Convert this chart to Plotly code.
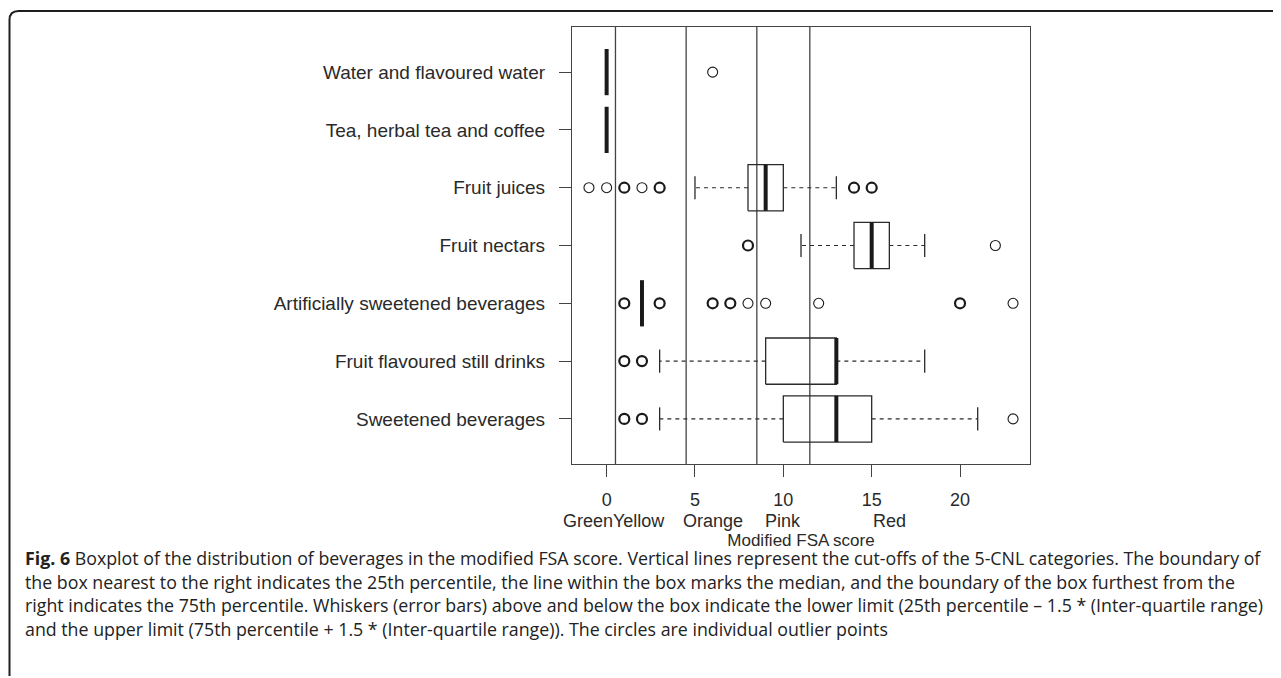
import plotly.graph_objects as go

# data (bottom row first)
categories = ["Sweetened beverages", "Fruit flavoured still drinks",
              "Artificially sweetened beverages", "Fruit nectars", "Fruit juices",
              "Tea, herbal tea and coffee", "Water and flavoured water"]
lower = [3, 3, 2, 11, 5, 0, 0]
q1 = [10, 9, 2, 14, 8, 0, 0]
median = [13, 13, 2, 15, 9, 0, 0]
q3 = [15, 13, 2, 16, 10, 0, 0]
upper = [21, 18, 2, 18, 13, 0, 0]
outliers = [[1, 2, 23], [1, 2], [1, 3, 6, 7, 8, 9, 12, 20, 23], [8, 22],
            [-1, 0, 1, 2, 3, 14, 15], [], [6]]
outlier_counts = [[2, 2, 1], [3, 3], [3, 3, 3, 3, 1, 1, 1, 3, 1], [3, 1],
                  [1, 1, 3, 1, 3, 3, 3], [], [1]]
cutoffs = [0.5, 4.5, 8.5, 11.5]
x_ticks = [0, 5, 10, 15, 20]
band_names = ["Green", "Yellow", "Orange", "Pink", "Red"]
band_label_x = [-1.05, 1.85, 6.0, 10.0, 16.0]

caption_lines = [
    "<b>Fig. 6</b> Boxplot of the distribution of beverages in the modified FSA score. Vertical lines represent the cut-offs of the 5-CNL categories. The boundary of",
    "the box nearest to the right indicates the 25th percentile, the line within the box marks the median, and the boundary of the box furthest from the",
    "right indicates the 75th percentile. Whiskers (error bars) above and below the box indicate the lower limit (25th percentile \u2013 1.5 * (Inter-quartile range)",
    "and the upper limit (75th percentile + 1.5 * (Inter-quartile range)). The circles are individual outlier points",
]

OFF = 8  # page body margin
W, H = 1281 - OFF - 2, 678 - OFF - 2
# plot area in page pixels, shifted into figure pixels
L, R, T, B = 572 - OFF, 1030 - OFF, 27 - OFF, 464 - OFF
XR = [-1.96, 23.96]
YR = [0.22, 7.78]
INK = "#2a2a2a"
BOXW = 0.4
CAPW = 0.2
AXFONT = "Liberation Sans, Arial"


def px_x(x):
    return (x - OFF - L) / (R - L)


def px_y(y):
    return (B - (y - OFF)) / (B - T)


fig = go.Figure()

for c in cutoffs:
    fig.add_trace(go.Scatter(x=[c, c], y=YR, mode="lines",
                             line=dict(color="#444", width=1.3),
                             hoverinfo="skip", showlegend=False))

for i, name in enumerate(categories):
    y = i + 1
    # whiskers
    for a, b in ((q1[i], lower[i]), (q3[i], upper[i])):
        if a != b:
            fig.add_trace(go.Scatter(x=[a, b], y=[y, y], mode="lines",
                                     line=dict(color=INK, width=1.1, dash="4px,4px"),
                                     hoverinfo="skip", showlegend=False))
            fig.add_trace(go.Scatter(x=[b, b], y=[y - CAPW, y + CAPW], mode="lines",
                                     line=dict(color=INK, width=1.3),
                                     hoverinfo="skip", showlegend=False))
    # box
    if q1[i] != q3[i]:
        fig.add_trace(go.Scatter(x=[q1[i], q3[i], q3[i], q1[i], q1[i]],
                                 y=[y - BOXW, y - BOXW, y + BOXW, y + BOXW, y - BOXW],
                                 mode="lines", line=dict(color=INK, width=1.3),
                                 hoverinfo="skip", showlegend=False))
    # median
    fig.add_trace(go.Scatter(x=[median[i], median[i]], y=[y - BOXW, y + BOXW],
                             mode="lines", line=dict(color="#1a1a1a", width=4),
                             name=name, showlegend=False))
    # outliers
    if outliers[i]:
        fig.add_trace(go.Scatter(
            x=outliers[i], y=[y] * len(outliers[i]), mode="markers",
            marker=dict(symbol="circle-open", size=10, color="#1a1a1a",
                        line=dict(width=[1.1 if n == 1 else 2.2 for n in outlier_counts[i]])),
            name=name, showlegend=False))

fig.update_xaxes(range=XR, tickvals=x_ticks, ticks="outside", ticklen=12,
                 tickcolor="#444", tickwidth=1.2, ticklabelstandoff=7,
                 tickfont=dict(family=AXFONT, size=18, color=INK),
                 showline=True, linecolor="#444", linewidth=1.3, mirror=True,
                 showgrid=False, zeroline=False,
                 title=dict(text="Modified FSA score", standoff=25,
                            font=dict(family=AXFONT, size=17, color=INK)))
fig.update_yaxes(range=YR, tickvals=list(range(1, len(categories) + 1)), ticktext=categories,
                 ticks="outside", ticklen=12, tickcolor="#444", tickwidth=1.2,
                 ticklabelstandoff=10,
                 tickfont=dict(family=AXFONT, size=19, color=INK),
                 showline=True, linecolor="#444", linewidth=1.3, mirror=True,
                 showgrid=False, zeroline=False)

for name, xb in zip(band_names, band_label_x):
    fig.add_annotation(x=xb, xref="x", y=px_y(521), yref="paper", text=name,
                       showarrow=False, xanchor="center", yanchor="middle",
                       font=dict(family=AXFONT, size=18, color=INK))

for k, line in enumerate(caption_lines):
    fig.add_annotation(x=px_x(23), xref="paper", y=px_y(558 + 23.5 * k), yref="paper",
                       text=line, showarrow=False, xanchor="left", yanchor="middle",
                       font=dict(family="Open Sans", size=17.8, color="#222"))

# rounded frame around the figure
fx0, fy0, rad = 9.5, 11, 9
path = (f"M {px_x(fx0)},{px_y(690)} L {px_x(fx0)},{px_y(fy0 + rad)} "
        f"Q {px_x(fx0)},{px_y(fy0)} {px_x(fx0 + rad)},{px_y(fy0)} L {px_x(1300)},{px_y(fy0)}")
fig.add_shape(type="path", path=path, xref="paper", yref="paper",
              line=dict(color="#1e1e1e", width=2))

fig.update_layout(width=W, height=H, margin=dict(l=L, r=W - R, t=T, b=H - B),
                  plot_bgcolor="white", paper_bgcolor="white")

fig.write_html("out.html")
